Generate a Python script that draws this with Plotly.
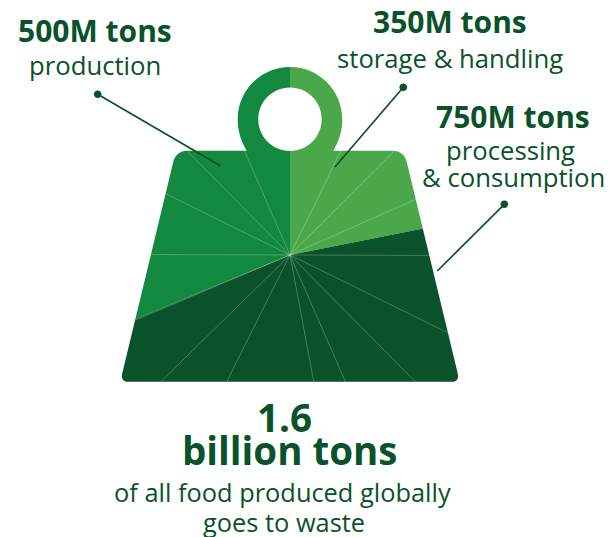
import plotly.graph_objects as go

# Food waste by stage, million tons (clockwise from twelve o'clock)
stages = ["storage & handling", "processing & consumption", "production"]
tons = [350, 750, 500]
stage_colors = ["#4aa84a", "#0a5229", "#13893f"]

# Angular gaps (degrees) between the thin spokes, starting from the 26 degree spoke
spoke_gaps = [19, 21, 24, 26, 19, 21, 13, 37, 19, 21.5, 23, 26, 19, 21, 49.5]
spoke_start = 26

INK = "#0a5229"
W, H = 609, 537
CX, CY, R = 290, 255, 255


def px(x):
    return x / W


def py(y):
    return 1 - y / H


def path(*cmds):
    # Each command is a letter followed by pixel pairs
    out = []
    for c in cmds:
        letter, pts = c[0], c[1:]
        out.append(letter + " ".join(f"{px(x):.5f},{py(y):.5f}" for x, y in pts))
    return " ".join(out)


def circle(cx, cy, r):
    k = 0.5523 * r
    return [
        ("M", (cx - r, cy)),
        ("C", (cx - r, cy - k), (cx - k, cy - r), (cx, cy - r)),
        ("C", (cx + k, cy - r), (cx + r, cy - k), (cx + r, cy)),
        ("C", (cx + r, cy + k), (cx + k, cy + r), (cx, cy + r)),
        ("C", (cx - k, cy + r), (cx - r, cy + k), (cx - r, cy)),
        ("Z",),
    ]


ring_r, hole_r, ring_y = 52.3, 31.7, 119.2
k = 0.5523 * ring_r
outline = [
    ("M", (246.7, 150.7)),
    ("C", (241, 141), (237.7, 131), (237.7, ring_y)),
    ("C", (237.7, ring_y - k), (290 - k, ring_y - ring_r), (290, ring_y - ring_r)),
    ("C", (290 + k, ring_y - ring_r), (342.3, ring_y - k), (342.3, ring_y)),
    ("C", (342.3, 131), (339, 141), (333.3, 150.7)),
    ("L", (393, 150.7)),
    ("C", (400, 150.7), (405, 155), (406.7, 161.7)),
    ("L", (457.7, 373.3)),
    ("C", (459, 378.5), (457, 381.7), (452, 381.7)),
    ("L", (128, 381.7)),
    ("C", (123, 381.7), (121, 378.5), (122.3, 373.3)),
    ("L", (173.3, 161.7)),
    ("C", (175, 155), (180, 150.7), (187, 150.7)),
    ("Z",),
]
page = [("M", (-5, -5)), ("L", (W + 5, -5)), ("L", (W + 5, H + 5)), ("L", (-5, H + 5)), ("Z",)]

domain_x = [(CX - R) / W, (CX + R) / W]
domain_y = [1 - (CY + R) / H, 1 - (CY - R) / H]

fig = go.Figure()
fig.add_trace(go.Pie(
    labels=stages, values=tons, sort=False, direction="clockwise", rotation=0,
    marker=dict(colors=stage_colors, line=dict(width=0)),
    textinfo="none", hoverinfo="label+value", showlegend=False,
    domain=dict(x=domain_x, y=domain_y),
))
fig.add_trace(go.Pie(
    values=spoke_gaps, sort=False, direction="clockwise", rotation=spoke_start,
    marker=dict(colors=["rgba(0,0,0,0)"] * len(spoke_gaps),
                line=dict(color="rgba(255,255,255,0.22)", width=0.6)),
    textinfo="none", hoverinfo="skip", showlegend=False,
    domain=dict(x=domain_x, y=domain_y),
))

shapes = [
    # White page with a weight-shaped opening, laid over the pie
    dict(type="path", xref="paper", yref="paper", layer="above",
         path=path(*page, *outline, *circle(290, ring_y, hole_r)),
         fillcolor="white", fillrule="evenodd", line=dict(width=0)),
]

leaders = [((97.7, 94.3), (220.7, 166)),
           ((403.3, 87.3), (334.7, 167.3)),
           ((504.3, 204.3), (437.3, 271))]
for (x0, y0), (x1, y1) in leaders:
    shapes.append(dict(type="line", xref="paper", yref="paper", layer="above",
                       x0=px(x0), y0=py(y0), x1=px(x1), y1=py(y1),
                       line=dict(color=INK, width=1.7)))
    shapes.append(dict(type="path", xref="paper", yref="paper", layer="above",
                       path=path(*circle(x0, y0, 3.8)), fillcolor=INK, line=dict(width=0)))

FONT = "Open Sans"
labels = [
    ("<b>500M tons</b>", 95, 30, 30),
    ("production", 95, 65.5, 25.7),
    ("<b>350M tons</b>", 450, 22, 30),
    ("storage &amp; handling", 450, 58.5, 25.7),
    ("<b>750M tons</b>", 513, 116, 30),
    ("processing", 510, 150.5, 25.7),
    ("&amp; consumption", 513, 177.5, 25.7),
    ("<b>1.6</b>", 284, 417, 38.5),
    ("<b>billion tons</b>", 290, 450, 38.5),
    ("of all food produced globally", 282, 491.5, 25.4),
    ("goes to waste", 284, 522, 25.4),
]
annotations = [
    dict(text=t, x=px(x), y=py(y), xref="paper", yref="paper", showarrow=False,
         xanchor="center", yanchor="middle", font=dict(family=FONT, size=s, color=INK))
    for t, x, y, s in labels
]

fig.update_layout(
    width=W, height=H, margin=dict(l=0, r=0, t=0, b=0),
    paper_bgcolor="white", plot_bgcolor="white",
    shapes=shapes, annotations=annotations, showlegend=False,
)
fig.write_html("out.html", config={"displayModeBar": False})
